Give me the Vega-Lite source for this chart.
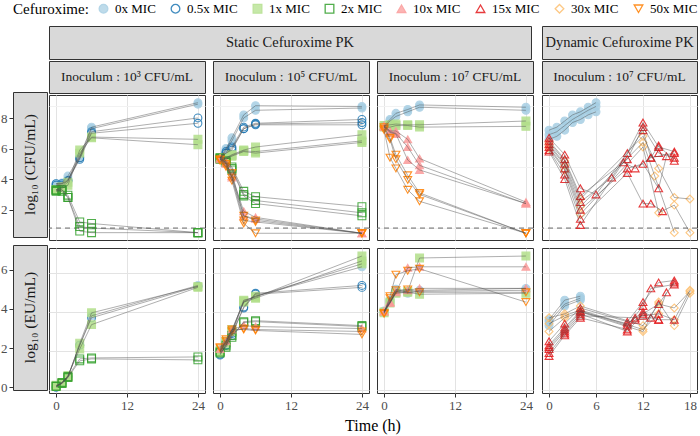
{
"$schema": "https://vega.github.io/schema/vega-lite/v6.json",
"padding": {"left": 0, "right": 2, "top": 2, "bottom": 2},
"config": {
  "font": "Liberation Serif",
  "view": {"stroke": "#333333", "strokeWidth": 1},
  "axis": {"labelColor": "#4d4d4d", "labelFontSize": 13, "tickColor": "#333333", "tickSize": 4, "domain": false, "labelPadding": 2},
  "legend": {"orient": "top", "direction": "horizontal", "titleOrient": "left", "titleFontSize": 15, "titleFontWeight": "normal", "titleColor": "#000000", "labelFontSize": 13, "labelColor": "#000000", "symbolSize": 75, "symbolStrokeWidth": 1.3, "columnPadding": 12, "labelOffset": 5, "offset": 8, "titlePadding": 8},
  "title": {"fontWeight": "normal", "color": "#000000"}
},
"datasets": {
"A_cfu": [
{"dose":"0x MIC","rep":"0a","t":0,"v":3.9},{"dose":"0x MIC","rep":"0a","t":1,"v":3.95},{"dose":"0x MIC","rep":"0a","t":2,"v":4.4},{"dose":"0x MIC","rep":"0a","t":4,"v":5.7},{"dose":"0x MIC","rep":"0a","t":6,"v":7.6},{"dose":"0x MIC","rep":"0a","t":24,"v":9.2},
{"dose":"0x MIC","rep":"0b","t":0,"v":3.8},{"dose":"0x MIC","rep":"0b","t":1,"v":3.9},{"dose":"0x MIC","rep":"0b","t":2,"v":4.2},{"dose":"0x MIC","rep":"0b","t":4,"v":5.6},{"dose":"0x MIC","rep":"0b","t":6,"v":7.5},{"dose":"0x MIC","rep":"0b","t":24,"v":9.1},
{"dose":"0.5x MIC","rep":"05a","t":0,"v":3.9},{"dose":"0.5x MIC","rep":"05a","t":1,"v":3.9},{"dose":"0.5x MIC","rep":"05a","t":2,"v":4.1},{"dose":"0.5x MIC","rep":"05a","t":4,"v":5.6},{"dose":"0.5x MIC","rep":"05a","t":6,"v":7.3},{"dose":"0.5x MIC","rep":"05a","t":24,"v":8.2},
{"dose":"0.5x MIC","rep":"05b","t":0,"v":3.8},{"dose":"0.5x MIC","rep":"05b","t":1,"v":3.8},{"dose":"0.5x MIC","rep":"05b","t":2,"v":4.1},{"dose":"0.5x MIC","rep":"05b","t":4,"v":5.5},{"dose":"0.5x MIC","rep":"05b","t":6,"v":7.2},{"dose":"0.5x MIC","rep":"05b","t":24,"v":7.85},
{"dose":"1x MIC","rep":"1a","t":0,"v":3.5},{"dose":"1x MIC","rep":"1a","t":1,"v":3.7},{"dose":"1x MIC","rep":"1a","t":2,"v":4.0},{"dose":"1x MIC","rep":"1a","t":4,"v":6.1},{"dose":"1x MIC","rep":"1a","t":6,"v":6.95},{"dose":"1x MIC","rep":"1a","t":24,"v":6.8},
{"dose":"1x MIC","rep":"1b","t":0,"v":3.5},{"dose":"1x MIC","rep":"1b","t":1,"v":3.6},{"dose":"1x MIC","rep":"1b","t":2,"v":3.8},{"dose":"1x MIC","rep":"1b","t":4,"v":5.9},{"dose":"1x MIC","rep":"1b","t":6,"v":6.9},{"dose":"1x MIC","rep":"1b","t":24,"v":6.45},
{"dose":"2x MIC","rep":"2a","t":0,"v":3.5},{"dose":"2x MIC","rep":"2a","t":1,"v":3.5},{"dose":"2x MIC","rep":"2a","t":2,"v":3.15},{"dose":"2x MIC","rep":"2a","t":4,"v":1.4},{"dose":"2x MIC","rep":"2a","t":6,"v":1.3},{"dose":"2x MIC","rep":"2a","t":24,"v":0.7},
{"dose":"2x MIC","rep":"2b","t":0,"v":3.45},{"dose":"2x MIC","rep":"2b","t":1,"v":3.4},{"dose":"2x MIC","rep":"2b","t":2,"v":3.0},{"dose":"2x MIC","rep":"2b","t":4,"v":1.1},{"dose":"2x MIC","rep":"2b","t":6,"v":1.0},{"dose":"2x MIC","rep":"2b","t":24,"v":0.7},
{"dose":"2x MIC","rep":"2c","t":0,"v":3.4},{"dose":"2x MIC","rep":"2c","t":1,"v":3.5},{"dose":"2x MIC","rep":"2c","t":2,"v":3.0},{"dose":"2x MIC","rep":"2c","t":4,"v":0.8},{"dose":"2x MIC","rep":"2c","t":6,"v":0.7},{"dose":"2x MIC","rep":"2c","t":24,"v":0.7}
],
"A_eu": [
{"dose":"0x MIC","rep":"0a","t":0,"v":0.2},{"dose":"0x MIC","rep":"0a","t":1,"v":0.4},{"dose":"0x MIC","rep":"0a","t":2,"v":0.7},{"dose":"0x MIC","rep":"0a","t":4,"v":2.3},{"dose":"0x MIC","rep":"0a","t":6,"v":3.8},{"dose":"0x MIC","rep":"0a","t":24,"v":5.35},
{"dose":"0.5x MIC","rep":"05a","t":0,"v":0.15},{"dose":"0.5x MIC","rep":"05a","t":1,"v":0.35},{"dose":"0.5x MIC","rep":"05a","t":2,"v":0.7},{"dose":"0.5x MIC","rep":"05a","t":4,"v":2.3},{"dose":"0.5x MIC","rep":"05a","t":6,"v":3.7},{"dose":"0.5x MIC","rep":"05a","t":24,"v":5.3},
{"dose":"1x MIC","rep":"1a","t":0,"v":0.2},{"dose":"1x MIC","rep":"1a","t":1,"v":0.4},{"dose":"1x MIC","rep":"1a","t":2,"v":0.65},{"dose":"1x MIC","rep":"1a","t":4,"v":2.4},{"dose":"1x MIC","rep":"1a","t":6,"v":3.95},{"dose":"1x MIC","rep":"1a","t":24,"v":5.3},
{"dose":"1x MIC","rep":"1b","t":0,"v":0.25},{"dose":"1x MIC","rep":"1b","t":1,"v":0.35},{"dose":"1x MIC","rep":"1b","t":2,"v":0.75},{"dose":"1x MIC","rep":"1b","t":4,"v":2.1},{"dose":"1x MIC","rep":"1b","t":6,"v":3.35},{"dose":"1x MIC","rep":"1b","t":24,"v":5.25},
{"dose":"2x MIC","rep":"2a","t":0,"v":0.2},{"dose":"2x MIC","rep":"2a","t":1,"v":0.4},{"dose":"2x MIC","rep":"2a","t":2,"v":0.7},{"dose":"2x MIC","rep":"2a","t":4,"v":1.6},{"dose":"2x MIC","rep":"2a","t":6,"v":1.65},{"dose":"2x MIC","rep":"2a","t":24,"v":1.7},
{"dose":"2x MIC","rep":"2b","t":0,"v":0.2},{"dose":"2x MIC","rep":"2b","t":1,"v":0.35},{"dose":"2x MIC","rep":"2b","t":2,"v":0.65},{"dose":"2x MIC","rep":"2b","t":4,"v":1.5},{"dose":"2x MIC","rep":"2b","t":6,"v":1.6},{"dose":"2x MIC","rep":"2b","t":24,"v":1.55}
],
"B_cfu": [
{"dose":"0x MIC","rep":"0a","t":0,"v":5.6},{"dose":"0x MIC","rep":"0a","t":1,"v":6.2},{"dose":"0x MIC","rep":"0a","t":2,"v":6.9},{"dose":"0x MIC","rep":"0a","t":4,"v":8.4},{"dose":"0x MIC","rep":"0a","t":6,"v":9.0},{"dose":"0x MIC","rep":"0a","t":24,"v":8.95},
{"dose":"0x MIC","rep":"0b","t":0,"v":5.55},{"dose":"0x MIC","rep":"0b","t":1,"v":6.1},{"dose":"0x MIC","rep":"0b","t":2,"v":6.7},{"dose":"0x MIC","rep":"0b","t":4,"v":8.2},{"dose":"0x MIC","rep":"0b","t":6,"v":8.7},{"dose":"0x MIC","rep":"0b","t":24,"v":8.85},
{"dose":"0.5x MIC","rep":"05a","t":0,"v":5.6},{"dose":"0.5x MIC","rep":"05a","t":1,"v":6.0},{"dose":"0.5x MIC","rep":"05a","t":2,"v":6.3},{"dose":"0.5x MIC","rep":"05a","t":4,"v":7.6},{"dose":"0.5x MIC","rep":"05a","t":6,"v":7.85},{"dose":"0.5x MIC","rep":"05a","t":24,"v":8.1},
{"dose":"0.5x MIC","rep":"05b","t":0,"v":5.6},{"dose":"0.5x MIC","rep":"05b","t":1,"v":5.9},{"dose":"0.5x MIC","rep":"05b","t":2,"v":6.2},{"dose":"0.5x MIC","rep":"05b","t":4,"v":7.5},{"dose":"0.5x MIC","rep":"05b","t":6,"v":7.8},{"dose":"0.5x MIC","rep":"05b","t":24,"v":7.9},
{"dose":"0.5x MIC","rep":"05c","t":0,"v":5.5},{"dose":"0.5x MIC","rep":"05c","t":1,"v":5.9},{"dose":"0.5x MIC","rep":"05c","t":2,"v":6.1},{"dose":"0.5x MIC","rep":"05c","t":4,"v":7.5},{"dose":"0.5x MIC","rep":"05c","t":6,"v":7.75},{"dose":"0.5x MIC","rep":"05c","t":24,"v":7.75},
{"dose":"1x MIC","rep":"1a","t":0,"v":5.6},{"dose":"1x MIC","rep":"1a","t":1,"v":5.6},{"dose":"1x MIC","rep":"1a","t":2,"v":5.8},{"dose":"1x MIC","rep":"1a","t":4,"v":6.1},{"dose":"1x MIC","rep":"1a","t":6,"v":6.3},{"dose":"1x MIC","rep":"1a","t":24,"v":7.1},
{"dose":"1x MIC","rep":"1b","t":0,"v":5.6},{"dose":"1x MIC","rep":"1b","t":1,"v":5.55},{"dose":"1x MIC","rep":"1b","t":2,"v":5.75},{"dose":"1x MIC","rep":"1b","t":4,"v":6.05},{"dose":"1x MIC","rep":"1b","t":6,"v":6.0},{"dose":"1x MIC","rep":"1b","t":24,"v":6.7},
{"dose":"1x MIC","rep":"1c","t":0,"v":5.5},{"dose":"1x MIC","rep":"1c","t":1,"v":5.5},{"dose":"1x MIC","rep":"1c","t":2,"v":5.7},{"dose":"1x MIC","rep":"1c","t":4,"v":6.0},{"dose":"1x MIC","rep":"1c","t":6,"v":5.9},{"dose":"1x MIC","rep":"1c","t":24,"v":6.6},
{"dose":"2x MIC","rep":"2a","t":0,"v":5.6},{"dose":"2x MIC","rep":"2a","t":1,"v":5.4},{"dose":"2x MIC","rep":"2a","t":2,"v":5.0},{"dose":"2x MIC","rep":"2a","t":4,"v":3.4},{"dose":"2x MIC","rep":"2a","t":6,"v":3.05},{"dose":"2x MIC","rep":"2a","t":24,"v":2.4},
{"dose":"2x MIC","rep":"2b","t":0,"v":5.55},{"dose":"2x MIC","rep":"2b","t":1,"v":5.3},{"dose":"2x MIC","rep":"2b","t":2,"v":4.9},{"dose":"2x MIC","rep":"2b","t":4,"v":3.2},{"dose":"2x MIC","rep":"2b","t":6,"v":2.8},{"dose":"2x MIC","rep":"2b","t":24,"v":2.0},
{"dose":"2x MIC","rep":"2c","t":0,"v":5.5},{"dose":"2x MIC","rep":"2c","t":1,"v":5.3},{"dose":"2x MIC","rep":"2c","t":2,"v":4.8},{"dose":"2x MIC","rep":"2c","t":4,"v":3.1},{"dose":"2x MIC","rep":"2c","t":6,"v":2.6},{"dose":"2x MIC","rep":"2c","t":24,"v":1.8},
{"dose":"10x MIC","rep":"10a","t":0,"v":5.6},{"dose":"10x MIC","rep":"10a","t":1,"v":5.3},{"dose":"10x MIC","rep":"10a","t":2,"v":4.4},{"dose":"10x MIC","rep":"10a","t":4,"v":2.1},{"dose":"10x MIC","rep":"10a","t":6,"v":1.7},{"dose":"10x MIC","rep":"10a","t":24,"v":0.66},
{"dose":"10x MIC","rep":"10b","t":0,"v":5.5},{"dose":"10x MIC","rep":"10b","t":1,"v":5.2},{"dose":"10x MIC","rep":"10b","t":2,"v":4.3},{"dose":"10x MIC","rep":"10b","t":4,"v":1.8},{"dose":"10x MIC","rep":"10b","t":6,"v":1.6},{"dose":"10x MIC","rep":"10b","t":24,"v":0.66},
{"dose":"50x MIC","rep":"50a","t":0,"v":5.5},{"dose":"50x MIC","rep":"50a","t":1,"v":5.2},{"dose":"50x MIC","rep":"50a","t":2,"v":4.6},{"dose":"50x MIC","rep":"50a","t":4,"v":1.8},{"dose":"50x MIC","rep":"50a","t":6,"v":1.5},{"dose":"50x MIC","rep":"50a","t":24,"v":0.66},
{"dose":"50x MIC","rep":"50b","t":0,"v":5.45},{"dose":"50x MIC","rep":"50b","t":1,"v":5.1},{"dose":"50x MIC","rep":"50b","t":2,"v":4.3},{"dose":"50x MIC","rep":"50b","t":4,"v":1.5},{"dose":"50x MIC","rep":"50b","t":6,"v":1.4},{"dose":"50x MIC","rep":"50b","t":24,"v":0.66},
{"dose":"50x MIC","rep":"50c","t":0,"v":5.4},{"dose":"50x MIC","rep":"50c","t":1,"v":5.0},{"dose":"50x MIC","rep":"50c","t":2,"v":4.1},{"dose":"50x MIC","rep":"50c","t":4,"v":1.3},{"dose":"50x MIC","rep":"50c","t":6,"v":0.66},{"dose":"50x MIC","rep":"50c","t":24,"v":0.66}
],
"B_eu": [
{"dose":"0x MIC","rep":"0a","t":0,"v":2.0},{"dose":"0x MIC","rep":"0a","t":1,"v":2.4},{"dose":"0x MIC","rep":"0a","t":2,"v":2.9},{"dose":"0x MIC","rep":"0a","t":4,"v":4.5},{"dose":"0x MIC","rep":"0a","t":6,"v":4.8},{"dose":"0x MIC","rep":"0a","t":24,"v":6.3},
{"dose":"0.5x MIC","rep":"05a","t":0,"v":1.85},{"dose":"0.5x MIC","rep":"05a","t":1,"v":2.3},{"dose":"0.5x MIC","rep":"05a","t":2,"v":2.8},{"dose":"0.5x MIC","rep":"05a","t":4,"v":4.25},{"dose":"0.5x MIC","rep":"05a","t":6,"v":4.95},{"dose":"0.5x MIC","rep":"05a","t":24,"v":5.35},
{"dose":"0.5x MIC","rep":"05b","t":0,"v":1.8},{"dose":"0.5x MIC","rep":"05b","t":1,"v":2.3},{"dose":"0.5x MIC","rep":"05b","t":2,"v":2.9},{"dose":"0.5x MIC","rep":"05b","t":4,"v":4.2},{"dose":"0.5x MIC","rep":"05b","t":6,"v":4.9},{"dose":"0.5x MIC","rep":"05b","t":24,"v":5.25},
{"dose":"1x MIC","rep":"1a","t":0,"v":2.0},{"dose":"1x MIC","rep":"1a","t":1,"v":2.5},{"dose":"1x MIC","rep":"1a","t":2,"v":3.0},{"dose":"1x MIC","rep":"1a","t":4,"v":4.6},{"dose":"1x MIC","rep":"1a","t":6,"v":4.75},{"dose":"1x MIC","rep":"1a","t":24,"v":6.85},
{"dose":"1x MIC","rep":"1b","t":0,"v":2.05},{"dose":"1x MIC","rep":"1b","t":1,"v":2.45},{"dose":"1x MIC","rep":"1b","t":2,"v":3.1},{"dose":"1x MIC","rep":"1b","t":4,"v":4.5},{"dose":"1x MIC","rep":"1b","t":6,"v":4.7},{"dose":"1x MIC","rep":"1b","t":24,"v":6.6},
{"dose":"1x MIC","rep":"1c","t":0,"v":1.95},{"dose":"1x MIC","rep":"1c","t":1,"v":2.4},{"dose":"1x MIC","rep":"1c","t":2,"v":3.0},{"dose":"1x MIC","rep":"1c","t":4,"v":4.55},{"dose":"1x MIC","rep":"1c","t":6,"v":4.8},{"dose":"1x MIC","rep":"1c","t":24,"v":6.45},
{"dose":"2x MIC","rep":"2a","t":0,"v":1.9},{"dose":"2x MIC","rep":"2a","t":1,"v":2.2},{"dose":"2x MIC","rep":"2a","t":2,"v":2.7},{"dose":"2x MIC","rep":"2a","t":4,"v":3.5},{"dose":"2x MIC","rep":"2a","t":6,"v":3.55},{"dose":"2x MIC","rep":"2a","t":24,"v":3.3},
{"dose":"2x MIC","rep":"2b","t":0,"v":1.95},{"dose":"2x MIC","rep":"2b","t":1,"v":2.3},{"dose":"2x MIC","rep":"2b","t":2,"v":2.8},{"dose":"2x MIC","rep":"2b","t":4,"v":3.45},{"dose":"2x MIC","rep":"2b","t":6,"v":3.5},{"dose":"2x MIC","rep":"2b","t":24,"v":3.25},
{"dose":"10x MIC","rep":"10a","t":0,"v":2.1},{"dose":"10x MIC","rep":"10a","t":1,"v":2.5},{"dose":"10x MIC","rep":"10a","t":2,"v":3.1},{"dose":"10x MIC","rep":"10a","t":4,"v":3.3},{"dose":"10x MIC","rep":"10a","t":6,"v":3.25},{"dose":"10x MIC","rep":"10a","t":24,"v":3.15},
{"dose":"50x MIC","rep":"50a","t":0,"v":2.2},{"dose":"50x MIC","rep":"50a","t":1,"v":2.6},{"dose":"50x MIC","rep":"50a","t":2,"v":3.1},{"dose":"50x MIC","rep":"50a","t":4,"v":3.1},{"dose":"50x MIC","rep":"50a","t":6,"v":3.05},{"dose":"50x MIC","rep":"50a","t":24,"v":2.85},
{"dose":"50x MIC","rep":"50b","t":0,"v":2.15},{"dose":"50x MIC","rep":"50b","t":1,"v":2.5},{"dose":"50x MIC","rep":"50b","t":2,"v":3.0},{"dose":"50x MIC","rep":"50b","t":4,"v":3.15},{"dose":"50x MIC","rep":"50b","t":6,"v":3.1},{"dose":"50x MIC","rep":"50b","t":24,"v":3.0}
],
"C_cfu": [
{"dose":"0x MIC","rep":"0a","t":0,"v":7.7},{"dose":"0x MIC","rep":"0a","t":1,"v":8.1},{"dose":"0x MIC","rep":"0a","t":2,"v":8.5},{"dose":"0x MIC","rep":"0a","t":4,"v":8.75},{"dose":"0x MIC","rep":"0a","t":6,"v":9.05},{"dose":"0x MIC","rep":"0a","t":24,"v":8.9},
{"dose":"0x MIC","rep":"0b","t":0,"v":7.6},{"dose":"0x MIC","rep":"0b","t":1,"v":8.0},{"dose":"0x MIC","rep":"0b","t":2,"v":8.3},{"dose":"0x MIC","rep":"0b","t":4,"v":8.6},{"dose":"0x MIC","rep":"0b","t":6,"v":8.9},{"dose":"0x MIC","rep":"0b","t":24,"v":8.7},
{"dose":"1x MIC","rep":"1a","t":0,"v":7.7},{"dose":"1x MIC","rep":"1a","t":1,"v":7.75},{"dose":"1x MIC","rep":"1a","t":2,"v":7.8},{"dose":"1x MIC","rep":"1a","t":4,"v":7.75},{"dose":"1x MIC","rep":"1a","t":6,"v":7.75},{"dose":"1x MIC","rep":"1a","t":24,"v":8.0},
{"dose":"1x MIC","rep":"1b","t":0,"v":7.6},{"dose":"1x MIC","rep":"1b","t":1,"v":7.6},{"dose":"1x MIC","rep":"1b","t":2,"v":7.7},{"dose":"1x MIC","rep":"1b","t":4,"v":7.7},{"dose":"1x MIC","rep":"1b","t":6,"v":7.6},{"dose":"1x MIC","rep":"1b","t":24,"v":7.65},
{"dose":"10x MIC","rep":"10a","t":0,"v":7.7},{"dose":"10x MIC","rep":"10a","t":1,"v":7.35},{"dose":"10x MIC","rep":"10a","t":2,"v":7.35},{"dose":"10x MIC","rep":"10a","t":4,"v":6.8},{"dose":"10x MIC","rep":"10a","t":6,"v":5.55},{"dose":"10x MIC","rep":"10a","t":24,"v":2.7},
{"dose":"10x MIC","rep":"10b","t":0,"v":7.65},{"dose":"10x MIC","rep":"10b","t":1,"v":7.3},{"dose":"10x MIC","rep":"10b","t":2,"v":7.2},{"dose":"10x MIC","rep":"10b","t":4,"v":6.3},{"dose":"10x MIC","rep":"10b","t":6,"v":5.1},{"dose":"10x MIC","rep":"10b","t":24,"v":2.6},
{"dose":"10x MIC","rep":"10c","t":0,"v":7.6},{"dose":"10x MIC","rep":"10c","t":1,"v":7.25},{"dose":"10x MIC","rep":"10c","t":2,"v":7.15},{"dose":"10x MIC","rep":"10c","t":4,"v":5.45},{"dose":"10x MIC","rep":"10c","t":6,"v":4.8},{"dose":"10x MIC","rep":"10c","t":24,"v":2.6},
{"dose":"50x MIC","rep":"50a","t":0,"v":7.6},{"dose":"50x MIC","rep":"50a","t":1,"v":6.9},{"dose":"50x MIC","rep":"50a","t":2,"v":5.8},{"dose":"50x MIC","rep":"50a","t":4,"v":4.45},{"dose":"50x MIC","rep":"50a","t":6,"v":3.3},{"dose":"50x MIC","rep":"50a","t":24,"v":0.66},
{"dose":"50x MIC","rep":"50b","t":0,"v":7.5},{"dose":"50x MIC","rep":"50b","t":1,"v":6.8},{"dose":"50x MIC","rep":"50b","t":2,"v":5.5},{"dose":"50x MIC","rep":"50b","t":4,"v":4.15},{"dose":"50x MIC","rep":"50b","t":6,"v":3.2},{"dose":"50x MIC","rep":"50b","t":24,"v":0.66},
{"dose":"50x MIC","rep":"50c","t":0,"v":7.4},{"dose":"50x MIC","rep":"50c","t":1,"v":5.6},{"dose":"50x MIC","rep":"50c","t":2,"v":4.9},{"dose":"50x MIC","rep":"50c","t":4,"v":3.5},{"dose":"50x MIC","rep":"50c","t":6,"v":2.75},{"dose":"50x MIC","rep":"50c","t":24,"v":0.66}
],
"C_eu": [
{"dose":"0x MIC","rep":"0a","t":0,"v":4.0},{"dose":"0x MIC","rep":"0a","t":1,"v":4.6},{"dose":"0x MIC","rep":"0a","t":2,"v":5.15},{"dose":"0x MIC","rep":"0a","t":4,"v":5.0},{"dose":"0x MIC","rep":"0a","t":6,"v":5.1},{"dose":"0x MIC","rep":"0a","t":24,"v":5.2},
{"dose":"0x MIC","rep":"0b","t":0,"v":4.05},{"dose":"0x MIC","rep":"0b","t":1,"v":4.5},{"dose":"0x MIC","rep":"0b","t":2,"v":5.05},{"dose":"0x MIC","rep":"0b","t":4,"v":4.95},{"dose":"0x MIC","rep":"0b","t":6,"v":5.05},{"dose":"0x MIC","rep":"0b","t":24,"v":5.1},
{"dose":"1x MIC","rep":"1a","t":0,"v":4.0},{"dose":"1x MIC","rep":"1a","t":1,"v":4.5},{"dose":"1x MIC","rep":"1a","t":2,"v":5.0},{"dose":"1x MIC","rep":"1a","t":4,"v":5.05},{"dose":"1x MIC","rep":"1a","t":6,"v":6.75},{"dose":"1x MIC","rep":"1a","t":24,"v":6.85},
{"dose":"1x MIC","rep":"1b","t":0,"v":3.95},{"dose":"1x MIC","rep":"1b","t":1,"v":4.45},{"dose":"1x MIC","rep":"1b","t":2,"v":4.95},{"dose":"1x MIC","rep":"1b","t":4,"v":5.0},{"dose":"1x MIC","rep":"1b","t":6,"v":4.9},{"dose":"1x MIC","rep":"1b","t":24,"v":4.95},
{"dose":"10x MIC","rep":"10a","t":0,"v":4.0},{"dose":"10x MIC","rep":"10a","t":1,"v":4.45},{"dose":"10x MIC","rep":"10a","t":2,"v":5.0},{"dose":"10x MIC","rep":"10a","t":4,"v":6.25},{"dose":"10x MIC","rep":"10a","t":6,"v":6.3},{"dose":"10x MIC","rep":"10a","t":24,"v":6.3},
{"dose":"10x MIC","rep":"10b","t":0,"v":4.05},{"dose":"10x MIC","rep":"10b","t":1,"v":4.5},{"dose":"10x MIC","rep":"10b","t":2,"v":5.05},{"dose":"10x MIC","rep":"10b","t":4,"v":5.1},{"dose":"10x MIC","rep":"10b","t":6,"v":5.2},{"dose":"10x MIC","rep":"10b","t":24,"v":5.2},
{"dose":"50x MIC","rep":"50a","t":0,"v":3.95},{"dose":"50x MIC","rep":"50a","t":1,"v":4.8},{"dose":"50x MIC","rep":"50a","t":2,"v":5.9},{"dose":"50x MIC","rep":"50a","t":4,"v":6.1},{"dose":"50x MIC","rep":"50a","t":6,"v":6.2},{"dose":"50x MIC","rep":"50a","t":24,"v":4.5},
{"dose":"50x MIC","rep":"50b","t":0,"v":3.9},{"dose":"50x MIC","rep":"50b","t":1,"v":4.7},{"dose":"50x MIC","rep":"50b","t":2,"v":5.1},{"dose":"50x MIC","rep":"50b","t":4,"v":5.15},{"dose":"50x MIC","rep":"50b","t":6,"v":5.0},{"dose":"50x MIC","rep":"50b","t":24,"v":5.0}
],
"D_cfu": [
{"dose":"0x MIC","rep":"0a","t":0,"v":7.4},{"dose":"0x MIC","rep":"0a","t":1,"v":7.6},{"dose":"0x MIC","rep":"0a","t":2,"v":8.0},{"dose":"0x MIC","rep":"0a","t":3,"v":8.4},{"dose":"0x MIC","rep":"0a","t":4,"v":8.6},{"dose":"0x MIC","rep":"0a","t":5,"v":8.9},{"dose":"0x MIC","rep":"0a","t":6,"v":9.2},
{"dose":"0x MIC","rep":"0b","t":0,"v":7.1},{"dose":"0x MIC","rep":"0b","t":1,"v":7.3},{"dose":"0x MIC","rep":"0b","t":2,"v":7.7},{"dose":"0x MIC","rep":"0b","t":3,"v":8.1},{"dose":"0x MIC","rep":"0b","t":4,"v":8.4},{"dose":"0x MIC","rep":"0b","t":5,"v":8.7},{"dose":"0x MIC","rep":"0b","t":6,"v":8.95},
{"dose":"0x MIC","rep":"0c","t":0,"v":6.8},{"dose":"0x MIC","rep":"0c","t":1,"v":7.0},{"dose":"0x MIC","rep":"0c","t":2,"v":7.4},{"dose":"0x MIC","rep":"0c","t":3,"v":7.9},{"dose":"0x MIC","rep":"0c","t":4,"v":8.1},{"dose":"0x MIC","rep":"0c","t":5,"v":8.4},{"dose":"0x MIC","rep":"0c","t":6,"v":8.6},
{"dose":"30x MIC","rep":"30a","t":0,"v":6.6},{"dose":"30x MIC","rep":"30a","t":2,"v":5.4},{"dose":"30x MIC","rep":"30a","t":4,"v":2.9},{"dose":"30x MIC","rep":"30a","t":12,"v":7.0},{"dose":"30x MIC","rep":"30a","t":14,"v":4.9},{"dose":"30x MIC","rep":"30a","t":16,"v":3.0},{"dose":"30x MIC","rep":"30a","t":18,"v":2.9},
{"dose":"30x MIC","rep":"30b","t":0,"v":6.4},{"dose":"30x MIC","rep":"30b","t":2,"v":5.1},{"dose":"30x MIC","rep":"30b","t":4,"v":2.4},{"dose":"30x MIC","rep":"30b","t":12,"v":6.6},{"dose":"30x MIC","rep":"30b","t":13.5,"v":4.4},{"dose":"30x MIC","rep":"30b","t":16,"v":0.7},
{"dose":"30x MIC","rep":"30c","t":0,"v":6.2},{"dose":"30x MIC","rep":"30c","t":2,"v":4.8},{"dose":"30x MIC","rep":"30c","t":4,"v":1.9},{"dose":"30x MIC","rep":"30c","t":12,"v":6.3},{"dose":"30x MIC","rep":"30c","t":14,"v":2.0},{"dose":"30x MIC","rep":"30c","t":16,"v":2.5},{"dose":"30x MIC","rep":"30c","t":18,"v":0.7},
{"dose":"15x MIC","rep":"15a","t":0,"v":6.9},{"dose":"15x MIC","rep":"15a","t":2,"v":5.8},{"dose":"15x MIC","rep":"15a","t":4,"v":3.6},{"dose":"15x MIC","rep":"15a","t":6,"v":3.2},{"dose":"15x MIC","rep":"15a","t":10,"v":5.9},{"dose":"15x MIC","rep":"15a","t":12,"v":7.9},{"dose":"15x MIC","rep":"15a","t":14,"v":6.3},{"dose":"15x MIC","rep":"15a","t":16,"v":6.0},
{"dose":"15x MIC","rep":"15b","t":0,"v":6.7},{"dose":"15x MIC","rep":"15b","t":2,"v":5.5},{"dose":"15x MIC","rep":"15b","t":4,"v":3.1},{"dose":"15x MIC","rep":"15b","t":10,"v":5.5},{"dose":"15x MIC","rep":"15b","t":12,"v":7.6},{"dose":"15x MIC","rep":"15b","t":14,"v":5.9},{"dose":"15x MIC","rep":"15b","t":16,"v":5.6},
{"dose":"15x MIC","rep":"15c","t":0,"v":6.5},{"dose":"15x MIC","rep":"15c","t":2,"v":5.2},{"dose":"15x MIC","rep":"15c","t":4,"v":2.7},{"dose":"15x MIC","rep":"15c","t":8,"v":4.3},{"dose":"15x MIC","rep":"15c","t":12,"v":7.4},{"dose":"15x MIC","rep":"15c","t":13,"v":5.6},{"dose":"15x MIC","rep":"15c","t":16,"v":5.9},
{"dose":"15x MIC","rep":"15d","t":0,"v":6.3},{"dose":"15x MIC","rep":"15d","t":2,"v":4.9},{"dose":"15x MIC","rep":"15d","t":4,"v":2.2},{"dose":"15x MIC","rep":"15d","t":10,"v":4.9},{"dose":"15x MIC","rep":"15d","t":12,"v":5.2},{"dose":"15x MIC","rep":"15d","t":14,"v":3.6},{"dose":"15x MIC","rep":"15d","t":15,"v":5.7},
{"dose":"15x MIC","rep":"15e","t":0,"v":6.1},{"dose":"15x MIC","rep":"15e","t":2,"v":4.5},{"dose":"15x MIC","rep":"15e","t":4,"v":1.6},{"dose":"15x MIC","rep":"15e","t":10,"v":4.6},{"dose":"15x MIC","rep":"15e","t":12,"v":2.6},{"dose":"15x MIC","rep":"15e","t":13,"v":2.6},{"dose":"15x MIC","rep":"15e","t":14.5,"v":2.1},
{"dose":"15x MIC","rep":"15f","t":0,"v":6.0},{"dose":"15x MIC","rep":"15f","t":2,"v":4.2},{"dose":"15x MIC","rep":"15f","t":4,"v":1.2},{"dose":"15x MIC","rep":"15f","t":9.5,"v":5.3},{"dose":"15x MIC","rep":"15f","t":11,"v":4.9},{"dose":"15x MIC","rep":"15f","t":13,"v":5.6},{"dose":"15x MIC","rep":"15f","t":14,"v":6.4},{"dose":"15x MIC","rep":"15f","t":16,"v":5.4}
],
"D_eu": [
{"dose":"0x MIC","rep":"0a","t":0,"v":3.6},{"dose":"0x MIC","rep":"0a","t":2,"v":4.6},{"dose":"0x MIC","rep":"0a","t":4,"v":4.8},
{"dose":"0x MIC","rep":"0b","t":0,"v":3.5},{"dose":"0x MIC","rep":"0b","t":2,"v":4.4},{"dose":"0x MIC","rep":"0b","t":4,"v":4.7},
{"dose":"0x MIC","rep":"0c","t":0,"v":3.3},{"dose":"0x MIC","rep":"0c","t":2,"v":4.3},{"dose":"0x MIC","rep":"0c","t":4,"v":4.6},
{"dose":"30x MIC","rep":"30a","t":0,"v":3.7},{"dose":"30x MIC","rep":"30a","t":2,"v":3.9},{"dose":"30x MIC","rep":"30a","t":4,"v":4.3},{"dose":"30x MIC","rep":"30a","t":12,"v":3.3},{"dose":"30x MIC","rep":"30a","t":14,"v":4.4},{"dose":"30x MIC","rep":"30a","t":16,"v":4.2},{"dose":"30x MIC","rep":"30a","t":18,"v":5.05},
{"dose":"30x MIC","rep":"30b","t":0,"v":3.4},{"dose":"30x MIC","rep":"30b","t":2,"v":3.8},{"dose":"30x MIC","rep":"30b","t":4,"v":4.1},{"dose":"30x MIC","rep":"30b","t":12,"v":3.1},{"dose":"30x MIC","rep":"30b","t":14,"v":3.9},{"dose":"30x MIC","rep":"30b","t":16,"v":3.6},{"dose":"30x MIC","rep":"30b","t":18,"v":5.1},
{"dose":"30x MIC","rep":"30c","t":0,"v":3.0},{"dose":"30x MIC","rep":"30c","t":2,"v":3.7},{"dose":"30x MIC","rep":"30c","t":4,"v":4.0},{"dose":"30x MIC","rep":"30c","t":12,"v":3.0},{"dose":"30x MIC","rep":"30c","t":14,"v":4.5},{"dose":"30x MIC","rep":"30c","t":16,"v":3.3},{"dose":"30x MIC","rep":"30c","t":18,"v":4.95},
{"dose":"15x MIC","rep":"15a","t":0,"v":2.5},{"dose":"15x MIC","rep":"15a","t":2,"v":3.4},{"dose":"15x MIC","rep":"15a","t":4,"v":4.2},{"dose":"15x MIC","rep":"15a","t":10,"v":3.5},{"dose":"15x MIC","rep":"15a","t":12,"v":4.5},{"dose":"15x MIC","rep":"15a","t":14,"v":5.5},{"dose":"15x MIC","rep":"15a","t":16,"v":5.6},
{"dose":"15x MIC","rep":"15b","t":0,"v":2.3},{"dose":"15x MIC","rep":"15b","t":2,"v":3.2},{"dose":"15x MIC","rep":"15b","t":4,"v":4.05},{"dose":"15x MIC","rep":"15b","t":10,"v":3.3},{"dose":"15x MIC","rep":"15b","t":12,"v":4.3},{"dose":"15x MIC","rep":"15b","t":13,"v":5.2},{"dose":"15x MIC","rep":"15b","t":16,"v":5.4},
{"dose":"15x MIC","rep":"15c","t":0,"v":2.1},{"dose":"15x MIC","rep":"15c","t":2,"v":3.0},{"dose":"15x MIC","rep":"15c","t":4,"v":3.9},{"dose":"15x MIC","rep":"15c","t":10,"v":3.0},{"dose":"15x MIC","rep":"15c","t":12,"v":3.9},{"dose":"15x MIC","rep":"15c","t":14,"v":4.4},{"dose":"15x MIC","rep":"15c","t":16,"v":5.5},
{"dose":"15x MIC","rep":"15d","t":0,"v":1.9},{"dose":"15x MIC","rep":"15d","t":2,"v":2.9},{"dose":"15x MIC","rep":"15d","t":4,"v":3.8},{"dose":"15x MIC","rep":"15d","t":11,"v":3.7},{"dose":"15x MIC","rep":"15d","t":12,"v":3.8},{"dose":"15x MIC","rep":"15d","t":14,"v":3.9},{"dose":"15x MIC","rep":"15d","t":15,"v":5.0},
{"dose":"15x MIC","rep":"15e","t":0,"v":1.75},{"dose":"15x MIC","rep":"15e","t":2,"v":2.8},{"dose":"15x MIC","rep":"15e","t":4,"v":3.7},{"dose":"15x MIC","rep":"15e","t":10,"v":3.1},{"dose":"15x MIC","rep":"15e","t":11,"v":3.6},{"dose":"15x MIC","rep":"15e","t":13,"v":3.7},{"dose":"15x MIC","rep":"15e","t":14,"v":3.6},
{"dose":"15x MIC","rep":"15f","t":0,"v":2.2},{"dose":"15x MIC","rep":"15f","t":2,"v":3.1},{"dose":"15x MIC","rep":"15f","t":4,"v":4.0},{"dose":"15x MIC","rep":"15f","t":10,"v":3.4},{"dose":"15x MIC","rep":"15f","t":12,"v":4.0},{"dose":"15x MIC","rep":"15f","t":14,"v":3.6},{"dose":"15x MIC","rep":"15f","t":16,"v":3.6}
]
},
"spacing": 0,
"hconcat": [
  {
    "spacing": 6,
    "vconcat": [
      {
        "spacing": 0,
        "vconcat": [
          {"width": 34, "height": 65, "view": {"stroke": null}, "data": {"values": [{"s": ""}]}, "mark": "text", "encoding": {"text": {"field": "s", "type": "nominal"}}},
          {"width": 34, "height": 145, "view": {"fill": "#d9d9d9", "stroke": "#333333"},
           "layer": [
             {"data": {"name": "A_cfu"}, "mark": {"type": "point", "opacity": 0}, "encoding": {"y": {"field": "v", "type": "quantitative", "scale": {"domain": [0.22, 9.7], "nice": false, "zero": false}, "axis": {"values": [2, 4, 6, 8], "grid": false, "title": null}}}},
             {"data": {"values": [{"label": "log₁₀ (CFU/mL)"}]}, "mark": {"type": "text", "angle": 270, "fontSize": 15.5, "color": "#1a1a1a"}, "encoding": {"text": {"field": "label", "type": "nominal"}}}
           ]}
        ]
      },
      {"width": 34, "height": 145, "view": {"fill": "#d9d9d9", "stroke": "#333333"},
       "layer": [
         {"data": {"name": "A_eu"}, "mark": {"type": "point", "opacity": 0}, "encoding": {"y": {"field": "v", "type": "quantitative", "scale": {"domain": [-0.14, 7.26], "nice": false, "zero": false}, "axis": {"values": [0, 2, 4, 6], "grid": false, "title": null}}}},
         {"data": {"values": [{"label": "log₁₀ (EU/mL)"}]}, "mark": {"type": "text", "angle": 270, "fontSize": 15.5, "color": "#1a1a1a"}, "encoding": {"text": {"field": "label", "type": "nominal"}}}
       ]}
    ]
  },
  {
    "spacing": 7,
    "title": {"text": "Time (h)", "orient": "bottom", "anchor": "middle", "fontSize": 16, "offset": 5},
    "hconcat": [
      {
        "spacing": 0,
        "vconcat": [
          {"width": 482, "height": 33, "view": {"fill": "#d9d9d9", "stroke": "#333333"}, "data": {"values": [{"label": "Static Cefuroxime PK"}]}, "mark": {"type": "text", "fontSize": 14.5, "color": "#1a1a1a"}, "encoding": {"text": {"field": "label", "type": "nominal"}}},
          {
            "spacing": 6,
            "hconcat": [
              {"spacing": 6, "vconcat": [
                {"spacing": 0, "vconcat": [
                  {"width": 156, "height": 32, "view": {"fill": "#d9d9d9", "stroke": "#333333"}, "data": {"values": [{"label": "Inoculum : 10³ CFU/mL"}]}, "mark": {"type": "text", "fontSize": 13.5, "color": "#1a1a1a"}, "encoding": {"text": {"field": "label", "type": "nominal"}}},
                  {"width": 156, "height": 145, "data": {"name": "A_cfu"}, "layer": [
                    {"data": {"values": [{"lod": 1}]}, "mark": {"type": "rule", "color": "#666666", "strokeDash": [5, 4], "strokeWidth": 1}, "encoding": {"y": {"field": "lod", "type": "quantitative", "scale": {"domain": [0.22, 9.7], "nice": false, "zero": false}, "axis": {"values": [1,2,3,4,5,6,7,8,9], "labels": false, "ticks": false, "title": null, "gridColor": {"condition": {"test": "datum.value % 2 === 0", "value": "#e3e3e3"}, "value": "#f2f2f2"}}}}},
                    {"mark": {"type": "point", "size": 62, "strokeWidth": 1.1, "opacity": 0.85}, "encoding": {
                      "x": {"field": "t", "type": "quantitative", "scale": {"domain": [-1.2, 25.2], "nice": false, "zero": false}, "axis": {"values": [0,3,6,9,12,15,18,21,24], "labels": false, "ticks": false, "title": null, "gridColor": {"condition": {"test": "datum.value % 6 === 0", "value": "#e3e3e3"}, "value": "#f2f2f2"}}},
                      "y": {"field": "v", "type": "quantitative", "scale": {"domain": [0.22, 9.7], "nice": false, "zero": false}, "axis": {"values": [1,2,3,4,5,6,7,8,9], "labels": false, "ticks": false, "title": null, "gridColor": {"condition": {"test": "datum.value % 2 === 0", "value": "#e3e3e3"}, "value": "#f2f2f2"}}},
                      "shape": {"field": "dose", "type": "nominal", "title": "Cefuroxime:", "scale": {"domain": ["0x MIC","0.5x MIC","1x MIC","2x MIC","10x MIC","15x MIC","30x MIC","50x MIC"], "range": ["circle","circle","square","square","triangle-up","triangle-up","diamond","triangle-down"]}},
                      "fill": {"field": "dose", "type": "nominal", "title": "Cefuroxime:", "scale": {"domain": ["0x MIC","0.5x MIC","1x MIC","2x MIC","10x MIC","15x MIC","30x MIC","50x MIC"], "range": ["#a6cee3","transparent","#b2df8a","transparent","#fb9a99","transparent","transparent","transparent"]}},
                      "stroke": {"field": "dose", "type": "nominal", "title": "Cefuroxime:", "scale": {"domain": ["0x MIC","0.5x MIC","1x MIC","2x MIC","10x MIC","15x MIC","30x MIC","50x MIC"], "range": ["#a6cee3","#1f78b4","#b2df8a","#33a02c","#fb9a99","#e31a1c","#fdbf6f","#ff7f00"]}}
                    }},
                    {"mark": {"type": "line", "color": "#4d4d4d", "strokeWidth": 1, "opacity": 0.45}, "encoding": {"x": {"field": "t", "type": "quantitative"}, "y": {"field": "v", "type": "quantitative"}, "detail": {"field": "rep", "type": "nominal"}}}
                  ]}
                ]},
                {"width": 156, "height": 145, "data": {"name": "A_eu"}, "layer": [
                  {"mark": {"type": "point", "size": 62, "strokeWidth": 1.1, "opacity": 0.85}, "encoding": {
                    "x": {"field": "t", "type": "quantitative", "scale": {"domain": [-1.2, 25.2], "nice": false, "zero": false}, "axis": {"values": [0,3,6,9,12,15,18,21,24], "title": null, "labelExpr": "datum.value % 6 === 0 ? datum.label : ''", "tickOpacity": {"condition": {"test": "datum.value % 6 === 0", "value": 1}, "value": 0}, "gridColor": {"condition": {"test": "datum.value % 6 === 0", "value": "#e3e3e3"}, "value": "#f2f2f2"}}},
                    "y": {"field": "v", "type": "quantitative", "scale": {"domain": [-0.14, 7.26], "nice": false, "zero": false}, "axis": {"values": [0,1,2,3,4,5,6,7], "labels": false, "ticks": false, "title": null, "gridColor": {"condition": {"test": "datum.value % 2 === 0", "value": "#e3e3e3"}, "value": "#f2f2f2"}}},
                    "shape": {"field": "dose", "type": "nominal", "title": "Cefuroxime:", "scale": {"domain": ["0x MIC","0.5x MIC","1x MIC","2x MIC","10x MIC","15x MIC","30x MIC","50x MIC"], "range": ["circle","circle","square","square","triangle-up","triangle-up","diamond","triangle-down"]}},
                    "fill": {"field": "dose", "type": "nominal", "title": "Cefuroxime:", "scale": {"domain": ["0x MIC","0.5x MIC","1x MIC","2x MIC","10x MIC","15x MIC","30x MIC","50x MIC"], "range": ["#a6cee3","transparent","#b2df8a","transparent","#fb9a99","transparent","transparent","transparent"]}},
                    "stroke": {"field": "dose", "type": "nominal", "title": "Cefuroxime:", "scale": {"domain": ["0x MIC","0.5x MIC","1x MIC","2x MIC","10x MIC","15x MIC","30x MIC","50x MIC"], "range": ["#a6cee3","#1f78b4","#b2df8a","#33a02c","#fb9a99","#e31a1c","#fdbf6f","#ff7f00"]}}
                  }},
                  {"mark": {"type": "line", "color": "#4d4d4d", "strokeWidth": 1, "opacity": 0.45}, "encoding": {"x": {"field": "t", "type": "quantitative"}, "y": {"field": "v", "type": "quantitative"}, "detail": {"field": "rep", "type": "nominal"}}}
                ]}
              ]},
              {"spacing": 6, "vconcat": [
                {"spacing": 0, "vconcat": [
                  {"width": 156, "height": 32, "view": {"fill": "#d9d9d9", "stroke": "#333333"}, "data": {"values": [{"label": "Inoculum : 10⁵ CFU/mL"}]}, "mark": {"type": "text", "fontSize": 13.5, "color": "#1a1a1a"}, "encoding": {"text": {"field": "label", "type": "nominal"}}},
                  {"width": 156, "height": 145, "data": {"name": "B_cfu"}, "layer": [
                    {"data": {"values": [{"lod": 1}]}, "mark": {"type": "rule", "color": "#666666", "strokeDash": [5, 4], "strokeWidth": 1}, "encoding": {"y": {"field": "lod", "type": "quantitative", "scale": {"domain": [0.22, 9.7], "nice": false, "zero": false}, "axis": {"values": [1,2,3,4,5,6,7,8,9], "labels": false, "ticks": false, "title": null, "gridColor": {"condition": {"test": "datum.value % 2 === 0", "value": "#e3e3e3"}, "value": "#f2f2f2"}}}}},
                    {"mark": {"type": "point", "size": 62, "strokeWidth": 1.1, "opacity": 0.85}, "encoding": {
                      "x": {"field": "t", "type": "quantitative", "scale": {"domain": [-1.2, 25.2], "nice": false, "zero": false}, "axis": {"values": [0,3,6,9,12,15,18,21,24], "labels": false, "ticks": false, "title": null, "gridColor": {"condition": {"test": "datum.value % 6 === 0", "value": "#e3e3e3"}, "value": "#f2f2f2"}}},
                      "y": {"field": "v", "type": "quantitative", "scale": {"domain": [0.22, 9.7], "nice": false, "zero": false}, "axis": {"values": [1,2,3,4,5,6,7,8,9], "labels": false, "ticks": false, "title": null, "gridColor": {"condition": {"test": "datum.value % 2 === 0", "value": "#e3e3e3"}, "value": "#f2f2f2"}}},
                      "shape": {"field": "dose", "type": "nominal", "title": "Cefuroxime:", "scale": {"domain": ["0x MIC","0.5x MIC","1x MIC","2x MIC","10x MIC","15x MIC","30x MIC","50x MIC"], "range": ["circle","circle","square","square","triangle-up","triangle-up","diamond","triangle-down"]}},
                      "fill": {"field": "dose", "type": "nominal", "title": "Cefuroxime:", "scale": {"domain": ["0x MIC","0.5x MIC","1x MIC","2x MIC","10x MIC","15x MIC","30x MIC","50x MIC"], "range": ["#a6cee3","transparent","#b2df8a","transparent","#fb9a99","transparent","transparent","transparent"]}},
                      "stroke": {"field": "dose", "type": "nominal", "title": "Cefuroxime:", "scale": {"domain": ["0x MIC","0.5x MIC","1x MIC","2x MIC","10x MIC","15x MIC","30x MIC","50x MIC"], "range": ["#a6cee3","#1f78b4","#b2df8a","#33a02c","#fb9a99","#e31a1c","#fdbf6f","#ff7f00"]}}
                    }},
                    {"mark": {"type": "line", "color": "#4d4d4d", "strokeWidth": 1, "opacity": 0.45}, "encoding": {"x": {"field": "t", "type": "quantitative"}, "y": {"field": "v", "type": "quantitative"}, "detail": {"field": "rep", "type": "nominal"}}}
                  ]}
                ]},
                {"width": 156, "height": 145, "data": {"name": "B_eu"}, "layer": [
                  {"mark": {"type": "point", "size": 62, "strokeWidth": 1.1, "opacity": 0.85}, "encoding": {
                    "x": {"field": "t", "type": "quantitative", "scale": {"domain": [-1.2, 25.2], "nice": false, "zero": false}, "axis": {"values": [0,3,6,9,12,15,18,21,24], "title": null, "labelExpr": "datum.value % 6 === 0 ? datum.label : ''", "tickOpacity": {"condition": {"test": "datum.value % 6 === 0", "value": 1}, "value": 0}, "gridColor": {"condition": {"test": "datum.value % 6 === 0", "value": "#e3e3e3"}, "value": "#f2f2f2"}}},
                    "y": {"field": "v", "type": "quantitative", "scale": {"domain": [-0.14, 7.26], "nice": false, "zero": false}, "axis": {"values": [0,1,2,3,4,5,6,7], "labels": false, "ticks": false, "title": null, "gridColor": {"condition": {"test": "datum.value % 2 === 0", "value": "#e3e3e3"}, "value": "#f2f2f2"}}},
                    "shape": {"field": "dose", "type": "nominal", "title": "Cefuroxime:", "scale": {"domain": ["0x MIC","0.5x MIC","1x MIC","2x MIC","10x MIC","15x MIC","30x MIC","50x MIC"], "range": ["circle","circle","square","square","triangle-up","triangle-up","diamond","triangle-down"]}},
                    "fill": {"field": "dose", "type": "nominal", "title": "Cefuroxime:", "scale": {"domain": ["0x MIC","0.5x MIC","1x MIC","2x MIC","10x MIC","15x MIC","30x MIC","50x MIC"], "range": ["#a6cee3","transparent","#b2df8a","transparent","#fb9a99","transparent","transparent","transparent"]}},
                    "stroke": {"field": "dose", "type": "nominal", "title": "Cefuroxime:", "scale": {"domain": ["0x MIC","0.5x MIC","1x MIC","2x MIC","10x MIC","15x MIC","30x MIC","50x MIC"], "range": ["#a6cee3","#1f78b4","#b2df8a","#33a02c","#fb9a99","#e31a1c","#fdbf6f","#ff7f00"]}}
                  }},
                  {"mark": {"type": "line", "color": "#4d4d4d", "strokeWidth": 1, "opacity": 0.45}, "encoding": {"x": {"field": "t", "type": "quantitative"}, "y": {"field": "v", "type": "quantitative"}, "detail": {"field": "rep", "type": "nominal"}}}
                ]}
              ]},
              {"spacing": 6, "vconcat": [
                {"spacing": 0, "vconcat": [
                  {"width": 156, "height": 32, "view": {"fill": "#d9d9d9", "stroke": "#333333"}, "data": {"values": [{"label": "Inoculum : 10⁷ CFU/mL"}]}, "mark": {"type": "text", "fontSize": 13.5, "color": "#1a1a1a"}, "encoding": {"text": {"field": "label", "type": "nominal"}}},
                  {"width": 156, "height": 145, "data": {"name": "C_cfu"}, "layer": [
                    {"data": {"values": [{"lod": 1}]}, "mark": {"type": "rule", "color": "#666666", "strokeDash": [5, 4], "strokeWidth": 1}, "encoding": {"y": {"field": "lod", "type": "quantitative", "scale": {"domain": [0.22, 9.7], "nice": false, "zero": false}, "axis": {"values": [1,2,3,4,5,6,7,8,9], "labels": false, "ticks": false, "title": null, "gridColor": {"condition": {"test": "datum.value % 2 === 0", "value": "#e3e3e3"}, "value": "#f2f2f2"}}}}},
                    {"mark": {"type": "point", "size": 62, "strokeWidth": 1.1, "opacity": 0.85}, "encoding": {
                      "x": {"field": "t", "type": "quantitative", "scale": {"domain": [-1.2, 25.2], "nice": false, "zero": false}, "axis": {"values": [0,3,6,9,12,15,18,21,24], "labels": false, "ticks": false, "title": null, "gridColor": {"condition": {"test": "datum.value % 6 === 0", "value": "#e3e3e3"}, "value": "#f2f2f2"}}},
                      "y": {"field": "v", "type": "quantitative", "scale": {"domain": [0.22, 9.7], "nice": false, "zero": false}, "axis": {"values": [1,2,3,4,5,6,7,8,9], "labels": false, "ticks": false, "title": null, "gridColor": {"condition": {"test": "datum.value % 2 === 0", "value": "#e3e3e3"}, "value": "#f2f2f2"}}},
                      "shape": {"field": "dose", "type": "nominal", "title": "Cefuroxime:", "scale": {"domain": ["0x MIC","0.5x MIC","1x MIC","2x MIC","10x MIC","15x MIC","30x MIC","50x MIC"], "range": ["circle","circle","square","square","triangle-up","triangle-up","diamond","triangle-down"]}},
                      "fill": {"field": "dose", "type": "nominal", "title": "Cefuroxime:", "scale": {"domain": ["0x MIC","0.5x MIC","1x MIC","2x MIC","10x MIC","15x MIC","30x MIC","50x MIC"], "range": ["#a6cee3","transparent","#b2df8a","transparent","#fb9a99","transparent","transparent","transparent"]}},
                      "stroke": {"field": "dose", "type": "nominal", "title": "Cefuroxime:", "scale": {"domain": ["0x MIC","0.5x MIC","1x MIC","2x MIC","10x MIC","15x MIC","30x MIC","50x MIC"], "range": ["#a6cee3","#1f78b4","#b2df8a","#33a02c","#fb9a99","#e31a1c","#fdbf6f","#ff7f00"]}}
                    }},
                    {"mark": {"type": "line", "color": "#4d4d4d", "strokeWidth": 1, "opacity": 0.45}, "encoding": {"x": {"field": "t", "type": "quantitative"}, "y": {"field": "v", "type": "quantitative"}, "detail": {"field": "rep", "type": "nominal"}}}
                  ]}
                ]},
                {"width": 156, "height": 145, "data": {"name": "C_eu"}, "layer": [
                  {"mark": {"type": "point", "size": 62, "strokeWidth": 1.1, "opacity": 0.85}, "encoding": {
                    "x": {"field": "t", "type": "quantitative", "scale": {"domain": [-1.2, 25.2], "nice": false, "zero": false}, "axis": {"values": [0,3,6,9,12,15,18,21,24], "title": null, "labelExpr": "datum.value % 6 === 0 ? datum.label : ''", "tickOpacity": {"condition": {"test": "datum.value % 6 === 0", "value": 1}, "value": 0}, "gridColor": {"condition": {"test": "datum.value % 6 === 0", "value": "#e3e3e3"}, "value": "#f2f2f2"}}},
                    "y": {"field": "v", "type": "quantitative", "scale": {"domain": [-0.14, 7.26], "nice": false, "zero": false}, "axis": {"values": [0,1,2,3,4,5,6,7], "labels": false, "ticks": false, "title": null, "gridColor": {"condition": {"test": "datum.value % 2 === 0", "value": "#e3e3e3"}, "value": "#f2f2f2"}}},
                    "shape": {"field": "dose", "type": "nominal", "title": "Cefuroxime:", "scale": {"domain": ["0x MIC","0.5x MIC","1x MIC","2x MIC","10x MIC","15x MIC","30x MIC","50x MIC"], "range": ["circle","circle","square","square","triangle-up","triangle-up","diamond","triangle-down"]}},
                    "fill": {"field": "dose", "type": "nominal", "title": "Cefuroxime:", "scale": {"domain": ["0x MIC","0.5x MIC","1x MIC","2x MIC","10x MIC","15x MIC","30x MIC","50x MIC"], "range": ["#a6cee3","transparent","#b2df8a","transparent","#fb9a99","transparent","transparent","transparent"]}},
                    "stroke": {"field": "dose", "type": "nominal", "title": "Cefuroxime:", "scale": {"domain": ["0x MIC","0.5x MIC","1x MIC","2x MIC","10x MIC","15x MIC","30x MIC","50x MIC"], "range": ["#a6cee3","#1f78b4","#b2df8a","#33a02c","#fb9a99","#e31a1c","#fdbf6f","#ff7f00"]}}
                  }},
                  {"mark": {"type": "line", "color": "#4d4d4d", "strokeWidth": 1, "opacity": 0.45}, "encoding": {"x": {"field": "t", "type": "quantitative"}, "y": {"field": "v", "type": "quantitative"}, "detail": {"field": "rep", "type": "nominal"}}}
                ]}
              ]}
            ]
          }
        ]
      },
      {
        "spacing": 0,
        "vconcat": [
          {"width": 155, "height": 33, "view": {"fill": "#d9d9d9", "stroke": "#333333"}, "data": {"values": [{"label": "Dynamic Cefuroxime PK"}]}, "mark": {"type": "text", "fontSize": 14.5, "color": "#1a1a1a"}, "encoding": {"text": {"field": "label", "type": "nominal"}}},
          {"spacing": 6, "vconcat": [
            {"spacing": 0, "vconcat": [
              {"width": 155, "height": 32, "view": {"fill": "#d9d9d9", "stroke": "#333333"}, "data": {"values": [{"label": "Inoculum : 10⁷ CFU/mL"}]}, "mark": {"type": "text", "fontSize": 13.5, "color": "#1a1a1a"}, "encoding": {"text": {"field": "label", "type": "nominal"}}},
              {"width": 155, "height": 145, "data": {"name": "D_cfu"}, "layer": [
                {"data": {"values": [{"lod": 1}]}, "mark": {"type": "rule", "color": "#666666", "strokeDash": [5, 4], "strokeWidth": 1}, "encoding": {"y": {"field": "lod", "type": "quantitative", "scale": {"domain": [0.22, 9.7], "nice": false, "zero": false}, "axis": {"values": [1,2,3,4,5,6,7,8,9], "labels": false, "ticks": false, "title": null, "gridColor": {"condition": {"test": "datum.value % 2 === 0", "value": "#e3e3e3"}, "value": "#f2f2f2"}}}}},
                {"mark": {"type": "point", "size": 62, "strokeWidth": 1.1, "opacity": 0.85}, "encoding": {
                  "x": {"field": "t", "type": "quantitative", "scale": {"domain": [-0.9, 18.9], "nice": false, "zero": false}, "axis": {"values": [0,3,6,9,12,15,18], "labels": false, "ticks": false, "title": null, "gridColor": {"condition": {"test": "datum.value % 6 === 0", "value": "#e3e3e3"}, "value": "#f2f2f2"}}},
                  "y": {"field": "v", "type": "quantitative", "scale": {"domain": [0.22, 9.7], "nice": false, "zero": false}, "axis": {"values": [1,2,3,4,5,6,7,8,9], "labels": false, "ticks": false, "title": null, "gridColor": {"condition": {"test": "datum.value % 2 === 0", "value": "#e3e3e3"}, "value": "#f2f2f2"}}},
                  "shape": {"field": "dose", "type": "nominal", "title": "Cefuroxime:", "scale": {"domain": ["0x MIC","0.5x MIC","1x MIC","2x MIC","10x MIC","15x MIC","30x MIC","50x MIC"], "range": ["circle","circle","square","square","triangle-up","triangle-up","diamond","triangle-down"]}},
                  "fill": {"field": "dose", "type": "nominal", "title": "Cefuroxime:", "scale": {"domain": ["0x MIC","0.5x MIC","1x MIC","2x MIC","10x MIC","15x MIC","30x MIC","50x MIC"], "range": ["#a6cee3","transparent","#b2df8a","transparent","#fb9a99","transparent","transparent","transparent"]}},
                  "stroke": {"field": "dose", "type": "nominal", "title": "Cefuroxime:", "scale": {"domain": ["0x MIC","0.5x MIC","1x MIC","2x MIC","10x MIC","15x MIC","30x MIC","50x MIC"], "range": ["#a6cee3","#1f78b4","#b2df8a","#33a02c","#fb9a99","#e31a1c","#fdbf6f","#ff7f00"]}}
                }},
                {"mark": {"type": "line", "color": "#4d4d4d", "strokeWidth": 1, "opacity": 0.45}, "encoding": {"x": {"field": "t", "type": "quantitative"}, "y": {"field": "v", "type": "quantitative"}, "detail": {"field": "rep", "type": "nominal"}}}
              ]}
            ]},
            {"width": 155, "height": 145, "data": {"name": "D_eu"}, "layer": [
              {"mark": {"type": "point", "size": 62, "strokeWidth": 1.1, "opacity": 0.85}, "encoding": {
                "x": {"field": "t", "type": "quantitative", "scale": {"domain": [-0.9, 18.9], "nice": false, "zero": false}, "axis": {"values": [0,3,6,9,12,15,18], "title": null, "labelExpr": "datum.value % 6 === 0 ? datum.label : ''", "tickOpacity": {"condition": {"test": "datum.value % 6 === 0", "value": 1}, "value": 0}, "gridColor": {"condition": {"test": "datum.value % 6 === 0", "value": "#e3e3e3"}, "value": "#f2f2f2"}}},
                "y": {"field": "v", "type": "quantitative", "scale": {"domain": [-0.14, 7.26], "nice": false, "zero": false}, "axis": {"values": [0,1,2,3,4,5,6,7], "labels": false, "ticks": false, "title": null, "gridColor": {"condition": {"test": "datum.value % 2 === 0", "value": "#e3e3e3"}, "value": "#f2f2f2"}}},
                "shape": {"field": "dose", "type": "nominal", "title": "Cefuroxime:", "scale": {"domain": ["0x MIC","0.5x MIC","1x MIC","2x MIC","10x MIC","15x MIC","30x MIC","50x MIC"], "range": ["circle","circle","square","square","triangle-up","triangle-up","diamond","triangle-down"]}},
                "fill": {"field": "dose", "type": "nominal", "title": "Cefuroxime:", "scale": {"domain": ["0x MIC","0.5x MIC","1x MIC","2x MIC","10x MIC","15x MIC","30x MIC","50x MIC"], "range": ["#a6cee3","transparent","#b2df8a","transparent","#fb9a99","transparent","transparent","transparent"]}},
                "stroke": {"field": "dose", "type": "nominal", "title": "Cefuroxime:", "scale": {"domain": ["0x MIC","0.5x MIC","1x MIC","2x MIC","10x MIC","15x MIC","30x MIC","50x MIC"], "range": ["#a6cee3","#1f78b4","#b2df8a","#33a02c","#fb9a99","#e31a1c","#fdbf6f","#ff7f00"]}}
              }},
              {"mark": {"type": "line", "color": "#4d4d4d", "strokeWidth": 1, "opacity": 0.45}, "encoding": {"x": {"field": "t", "type": "quantitative"}, "y": {"field": "v", "type": "quantitative"}, "detail": {"field": "rep", "type": "nominal"}}}
            ]}
          ]}
        ]
      }
    ]
  }
]
}
